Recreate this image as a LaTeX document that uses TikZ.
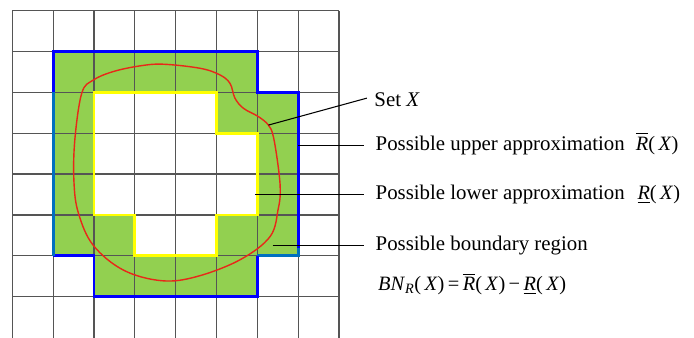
\documentclass[tikz,border=0pt]{standalone}
\usepackage{amsmath}
\usepackage{fontspec}
\setmainfont{Liberation Serif}
\definecolor{regionGreen}{RGB}{146,208,80}
\definecolor{upperBlue}{RGB}{0,0,255}
\definecolor{edgeBlue}{RGB}{0,112,192}
\definecolor{lowerYellow}{RGB}{255,255,0}
\definecolor{setRed}{RGB}{232,40,24}
\definecolor{gridGray}{RGB}{85,85,85}
\newcommand{\rsUpper}[1]{$\overline{\mbox{\textit{#1}}}$}
\newcommand{\rsLower}[1]{$\underline{\mbox{\textit{#1}}}$}

\begin{document}
\begin{tikzpicture}[x=1.2255cm,y=-1.2255cm,
  rsText/.style={anchor=base west, inner sep=0pt, font=\fontsize{17.8}{21}\selectfont},
  rsMath/.style={anchor=base west, inner sep=0pt, font=\fontsize{17.4}{20}\selectfont},
  rsLeader/.style={draw=black, line width=0.9pt},
  rsEdge/.style={line width=2.4pt, line cap=square}]
\useasboundingbox (-0.301,-0.262) rectangle (16.688,8.012);
\fill[regionGreen] (1,1) -- (6,1) -- (6,2) -- (7,2) -- (7,6) -- (6,6) -- (6,7) -- (2,7) -- (2,6) -- (1,6) -- cycle;
\fill[white] (2,2) -- (5,2) -- (5,3) -- (6,3) -- (6,5) -- (5,5) -- (5,6) -- (3,6) -- (3,5) -- (2,5) -- cycle;
\foreach \i in {0,...,8} \draw[gridGray, line width=1.1pt] (\i,0) -- (\i,8.05);
\foreach \j in {0,...,7} \draw[gridGray, line width=1.1pt] (0,\j) -- (8,\j);
\draw[lowerYellow, line width=2.4pt] (2,2) -- (5,2) -- (5,3) -- (6,3) -- (6,5) -- (5,5) -- (5,6) -- (3,6) -- (3,5) -- (2,5) -- cycle;
\draw[upperBlue, rsEdge] (1,2) -- (1,1) -- (6,1) -- (6,2) -- (7,2) -- (7,5.8);
\draw[edgeBlue, rsEdge] (7,5.8) -- (7,6) -- (6,6);
\draw[upperBlue, rsEdge] (6,6) -- (6,7) -- (2,7) -- (2,6) -- (1,6);
\draw[edgeBlue, rsEdge] (1,6) -- (1,2);
\draw[setRed, line width=1.2pt] plot[smooth cycle, tension=0.6] coordinates {(3.70,1.31) (4.60,1.41) (5.08,1.57) (5.33,1.78) (5.45,2.14) (5.66,2.39) (6.02,2.59) (6.27,2.80) (6.39,3.08) (6.51,3.82) (6.56,4.40) (6.51,4.85) (6.31,5.53) (5.57,6.10) (4.51,6.51) (3.66,6.61) (2.72,6.35) (1.98,5.74) (1.62,4.96) (1.51,4.20) (1.53,3.17) (1.70,2.02) (1.98,1.70) (2.47,1.49) (3.13,1.35)};
\coordinate (setX) at (6.27,2.80);
\coordinate (upperEdge) at (7,3.29);
\coordinate (lowerCell) at (5.94,4.49);
\coordinate (boundCell) at (6.37,5.75);
\coordinate (setXEnd) at (8.68,2.14);
\coordinate (upperEnd) at (8.62,3.29);
\coordinate (lowerEnd) at (8.62,4.49);
\coordinate (boundEnd) at (8.62,5.75);
\node[rsText] (setLabel) at (8.86,2.333) {Set \textit{X}};
\node[rsText] (upperLabel) at (8.89,3.41) {Possible upper approximation};
\node[rsMath] (upperMath) at (15.26,3.41) {\rsUpper{R}(\,\textit{X})};
\node[rsText] (lowerLabel) at (8.89,4.62) {Possible lower approximation};
\node[rsMath] (lowerMath) at (15.30,4.62) {\rsLower{R}(\,\textit{X})};
\node[rsText] (boundLabel) at (8.89,5.88) {Possible boundary region};
\node[rsMath] (boundMath) at (8.95,6.86) {\textit{BN}\textsubscript{\textit{R}}(\,\textit{X})\,=\,\rsUpper{R}(\,\textit{X})\,−\,\rsLower{R}(\,\textit{X})};
\draw[rsLeader] (setX) -- (setXEnd);
\draw[rsLeader] (upperEdge) -- (upperEnd);
\draw[rsLeader] (lowerCell) -- (lowerEnd);
\draw[rsLeader] (boundCell) -- (boundEnd);
\end{tikzpicture}
\end{document}
